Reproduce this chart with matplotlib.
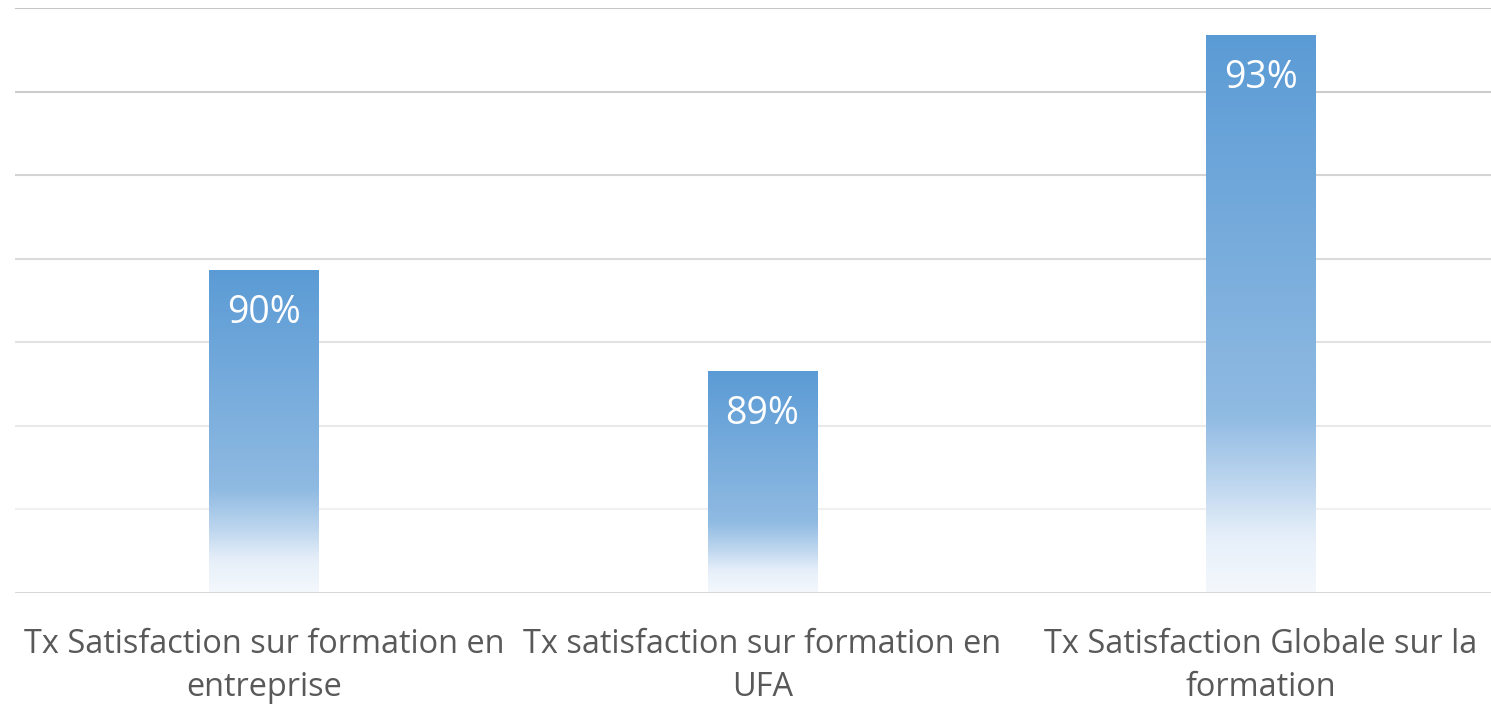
import numpy as np
import matplotlib.pyplot as plt
from matplotlib.colors import LinearSegmentedColormap, to_rgb

categories = [
    "Tx Satisfaction sur formation en\nentreprise",
    "Tx satisfaction sur formation en\nUFA",
    "Tx Satisfaction Globale sur la\nformation",
]
values = [0.9037, 0.8916, 0.9318]
value_labels = ["90%", "89%", "93%"]

y_min, y_max, y_step = 0.865, 0.935, 0.01

plt.rcParams["font.family"] = ["Open Sans", "DejaVu Sans"]

W, H = 1491, 705
fig = plt.figure(figsize=(W / 100, H / 100), dpi=100)
ax = fig.add_axes([15 / W, (H - 593) / H, (W - 15) / W, (593 - 8) / H])

x = np.arange(len(categories))
cat_w = 498.5
ax.set_xlim(-0.5, 2.5 - 19 / cat_w)
ax.set_ylim(y_min, y_max)

# gridlines get darker toward the top
ticks = np.arange(y_min + y_step, y_max + y_step / 2, y_step)
c_lo, c_hi = np.array(to_rgb("#f0f0f0")), np.array(to_rgb("#c6c6c6"))
for i, t in enumerate(ticks):
    f = i / (len(ticks) - 1)
    ax.axhline(t, color=c_lo + (c_hi - c_lo) * f, lw=1.5, zorder=0)
ax.axhline(y_min, color="#d4d4d4", lw=2, zorder=3)

grad = LinearSegmentedColormap.from_list(
    "bar_grad",
    [(0.0, "#f4f8fd"), (0.1, "#e6eff9"), (0.2, "#bcd5ee"),
     (0.32, "#8fbae2"), (1.0, "#5b9bd5")],
)

bars = ax.bar(x, [v - y_min for v in values], bottom=y_min, width=110 / cat_w,
              color="none", edgecolor="none", zorder=2)
g = np.linspace(0, 1, 256).reshape(-1, 1)
for b in bars:
    x0, y0 = b.get_x(), b.get_y()
    im = ax.imshow(g, cmap=grad, origin="lower", aspect="auto",
                   extent=[x0, x0 + b.get_width(), y0, y0 + b.get_height()],
                   zorder=2, interpolation="bicubic")
    im.set_clip_path(b)

for xi, v, lab in zip(x, values, value_labels):
    ax.annotate(lab, (xi, v), xytext=(0, -31), textcoords="offset points",
                ha="center", va="center", color="white", fontsize=27)

ax.set_xticks(x)
ax.set_xticklabels(categories, fontsize=23.4, color="#595959", linespacing=1.4)
ax.tick_params(axis="x", length=0, pad=25.5)
ax.set_yticks([])
for s in ax.spines.values():
    s.set_visible(False)

fig.savefig("out.png", dpi=100, facecolor="white")
